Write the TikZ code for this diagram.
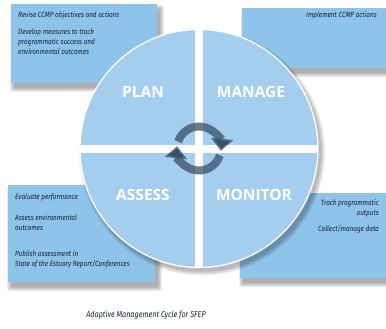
\documentclass[tikz,border=0pt]{standalone}
\usepackage{fontspec}
\setmainfont{Fira Sans}
\newfontfamily\lblfont{Open Sans}
\usetikzlibrary{arrows.meta}
\definecolor{boxblue}{RGB}{142,195,234}
\definecolor{circblue}{RGB}{165,205,237}
\definecolor{txtc}{RGB}{22,35,58}
\definecolor{arrowc}{RGB}{58,80,104}
\newcommand{\cnd}[1]{\scalebox{0.84}[1]{#1}}
\newcommand{\softshadow}[4]{%
  \foreach \k in {0,1,2,3,4}{%
    \fill[black,opacity=0.07,rounded corners=2pt]
      ({#1+3-\k},{#2+5-\k}) rectangle ({#3+3+\k},{#4+5+\k});}}
\begin{document}
\begin{tikzpicture}[x=1pt,y=-1pt,
  boxfill/.style={fill=boxblue},
  small/.style={font=\itshape\fontsize{7.6}{10}\selectfont, text=txtc, inner sep=0pt},
  capt/.style={font=\itshape\fontsize{8.6}{10}\selectfont, text=txtc, inner sep=0pt},
  big/.style={font=\lblfont\bfseries\fontsize{15.5}{16}\selectfont, text=white, inner sep=0pt},
  cyc/.style={draw=arrowc, draw opacity=0.75, line width=8pt,
     -{Triangle[width=22pt,length=12pt]}}]
\useasboundingbox (0,0) rectangle (386,329);
\fill[white] (0,0) rectangle (386,329);
% box shadows
\softshadow{11}{4}{157}{83}
\softshadow{242}{8}{386}{68}
\softshadow{8}{185}{155}{282}
\softshadow{240}{193}{386}{278}
% boxes
\fill[boxfill] (11,4) rectangle (157,83);
\fill[boxfill] (242,8) rectangle (386,68);
\fill[boxfill] (8,185) rectangle (155,282);
\fill[boxfill] (240,193) rectangle (386,278);
% circle shadow
\coordinate (C) at (199,148.5);
\foreach \k in {0,1,2,3,4}{\fill[black,opacity=0.06] ([shift={(3,4)}]C) circle[radius={119+\k}];}
% circle
\fill[circblue] (C) circle[radius=119];
\begin{scope}
  \clip (C) circle[radius=119];
  \fill[white] (195,0) rectangle (203,329);
  \fill[white] (0,144.5) rectangle (386,152.5);
\end{scope}
\draw[white, line width=1.3pt] (C) circle[radius=119];
% labels
\node[big] (plan) at (143,92) {PLAN};
\node[big] (manage) at (251,92) {MANAGE};
\node[big] (assess) at (143,195) {ASSESS};
\node[big] (monitor) at (254,195) {MONITOR};
% cycle arrows
\draw[cyc] ([shift={(198:22)}]C) arc[start angle=198, end angle=366, radius=22];
\draw[cyc] ([shift={(18:22)}]C) arc[start angle=18, end angle=186, radius=22];
% box texts
\node[small, anchor=west] (tl1) at (18,15) {\cnd{Revise CCMP objectives and actions}};
\node[small, anchor=west, align=left] (tl2) at (18,42) {\cnd{Develop measures to track}\\\cnd{programmatic success and}\\\cnd{environmental outcomes}};
\node[small, anchor=east] (tr1) at (377,15) {\cnd{Implement CCMP actions}};
\node[small, anchor=west] (bl1) at (15,197) {\cnd{Evaluate performance}};
\node[small, anchor=west, align=left] (bl2) at (15,223) {\cnd{Assess environmental}\\\cnd{outcomes}};
\node[small, anchor=west, align=left] (bl3) at (15,259) {\cnd{Publish assessment in}\\\cnd{State of the Estuary Report/Conferences}};
\node[small, anchor=east, align=right] (br1) at (379,208) {\cnd{Track programmatic}\\\cnd{outputs}};
\node[small, anchor=east] (br2) at (379,229) {\cnd{Collect/manage data}};
% caption
\node[capt] (cap) at (146,315) {\cnd{Adaptive Management Cycle for SFEP}};
\end{tikzpicture}
\end{document}
